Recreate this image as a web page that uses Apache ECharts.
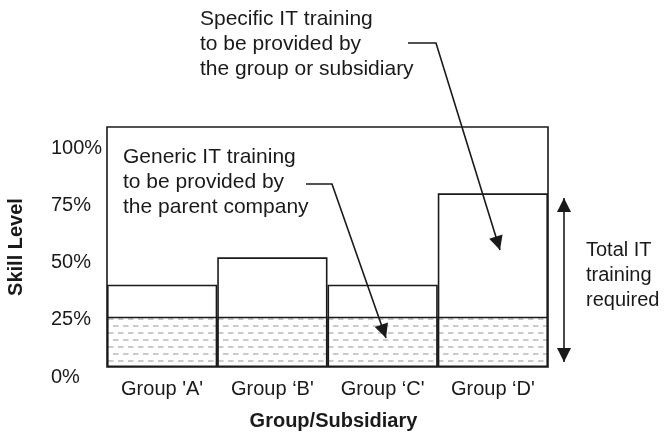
<!DOCTYPE html>
<html>
<head>
<meta charset="utf-8">
<script src="https://cdn.jsdelivr.net/npm/echarts@6/dist/echarts.min.js"></script>
<style>
  html, body { margin: 0; padding: 0; background: #fff; }
  #chart { width: 665px; height: 443px; }
</style>
</head>
<body>
<div id="chart"></div>
<script>
// data (skill level, %)
var groups = ["Group 'A'", "Group \u2018B'", "Group \u2018C'", "Group \u2018D'"];
var totalTraining = [36, 48, 36, 76];
var genericTraining = [22, 22, 22, 22];
var yTicks = [0, 25, 50, 75, 100];

var FONT = '"Liberation Sans", Arial, sans-serif';
var INK = '#1a1a1a';

// grey dashed fill for the generic part
var makeHatch = function(){
	var c = document.createElement('canvas');
	c.width = 10; c.height = 14;
	var ctx = c.getContext('2d');
	ctx.fillStyle = '#fff';
	ctx.fillRect(0, 0, 10, 14);
	ctx.fillStyle = '#cacaca';
	ctx.fillRect(3, 3, 5.5, 2);
	ctx.fillRect(8, 10, 2, 2);
	ctx.fillRect(0, 10, 3.5, 2);
	return c;
};

// line through pts with an arrow head at the end (and optionally at the start)
var arrow = function(pts, both){
	var els = [{
		type: 'polyline', z: 100,
		shape: { points: pts },
		style: { stroke: INK, lineWidth: 1.6, fill: null }
	}];
	var head = function(tip, from){
		var dx = tip[0] - from[0], dy = tip[1] - from[1];
		var len = Math.sqrt(dx*dx + dy*dy);
		dx /= len; dy /= len;
		var L = 14, W = 7;
		var bx = tip[0] - dx*L, by = tip[1] - dy*L;
		return {
			type: 'polygon', z: 100,
			shape: { points: [tip, [bx - dy*W, by + dx*W], [bx + dy*W, by - dx*W]] },
			style: { fill: INK }
		};
	};
	els.push(head(pts[pts.length-1], pts[pts.length-2]));
	if(both){
		els.push(head(pts[0], pts[1]));
	}
	return els;
};

var note = function(x, y, txt, size){
	return {
		type: 'text', left: x, top: y, z: 100,
		style: { text: txt, fontSize: size, lineHeight: 25, fontFamily: FONT, fill: INK }
	};
};

var graphics = []
	.concat(arrow([[408, 43], [436, 43], [500, 250]]))
	.concat(arrow([[306, 184], [332, 184], [386, 338]]))
	.concat(arrow([[564, 198], [564, 362]], true))
	.concat([
		note(200, 7, 'Specific IT training\nto be provided by\nthe group or subsidiary', 21),
		note(123, 145, 'Generic IT training\nto be provided by\nthe parent company', 21),
		note(586, 238, 'Total IT\ntraining\nrequired', 20)
	]);

var chart = echarts.init(document.getElementById('chart'));
var option = {
	animation: false,
	backgroundColor: '#fff',
	grid: {
		left: 107, right: 117, top: 127, bottom: 76,
		containLabel: false, outerBoundsMode: 'none',
		show: true, borderColor: INK, borderWidth: 1.6, backgroundColor: 'transparent'
	},
	xAxis: {
		type: 'category',
		data: groups,
		name: 'Group/Subsidiary',
		nameLocation: 'middle',
		nameGap: 44,
		nameTextStyle: { fontSize: 20, fontWeight: 'bold', fontFamily: FONT, color: INK, padding: [0, 0, 0, 12] },
		axisLine: { show: false },
		axisTick: { show: false },
		axisLabel: { interval: 0, hideOverlap: false, fontSize: 20, fontFamily: FONT, color: INK, margin: 12 }
	},
	yAxis: {
		type: 'value',
		min: 0, max: 105, interval: 25,
		name: 'Skill Level',
		nameLocation: 'middle',
		nameRotate: 90,
		nameGap: 81,
		nameTextStyle: { fontSize: 20, fontWeight: 'bold', fontFamily: FONT, color: INK },
		axisLine: { show: false },
		axisTick: { show: false },
		splitLine: { show: false },
		axisLabel: {
			customValues: yTicks,
			formatter: '{value}%',
			align: 'left', verticalAlign: 'top', lineHeight: 20, margin: 56,
			fontSize: 20, fontFamily: FONT, color: INK
		}
	},
	series: [{
		name: 'Total IT training required',
		type: 'bar',
		data: totalTraining,
		barCategoryGap: 0,
		barGap: '-100%',
		itemStyle: { color: '#fff', borderColor: INK, borderWidth: 1.6 }
	}, {
		name: 'Generic IT training',
		type: 'bar',
		data: genericTraining,
		barCategoryGap: 0,
		barGap: '-100%',
		itemStyle: {
			color: { image: makeHatch(), repeat: 'repeat' },
			borderColor: INK, borderWidth: 1.6
		}
	}],
	graphic: graphics
};
chart.setOption(option);
</script>
</body>
</html>
